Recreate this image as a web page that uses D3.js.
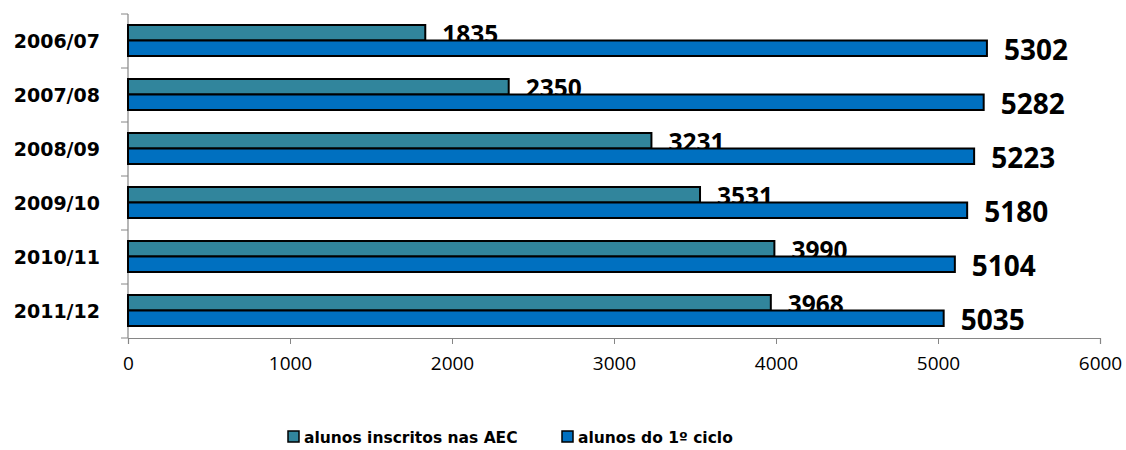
<!DOCTYPE html>
<html>
<head>
<meta charset="utf-8">
<script src="https://cdn.jsdelivr.net/npm/d3@7"></script>
<style>
  body { margin: 0; background: #fff; }
</style>
</head>
<body>
<div id="chart"></div>
<script>
// chart data
var years = ["2006/07", "2007/08", "2008/09", "2009/10", "2010/11", "2011/12"];
var aecValues = [1835, 2350, 3231, 3531, 3990, 3968];
var cicloValues = [5302, 5282, 5223, 5180, 5104, 5035];
var seriesNames = ["alunos inscritos nas AEC", "alunos do 1º ciclo"];
var xTicks = [0, 1000, 2000, 3000, 4000, 5000, 6000];

var width = 1126;
var height = 450;
var colors = ["#31859C", "#0070C0"];

var svg = d3.select("#chart")
    .append("svg")
    .attr("width", width)
    .attr("height", height);

// scales
var x = d3.scaleLinear()
    .domain([0, 6000])
    .range([128, 1100]);

var y = d3.scaleBand()
    .domain(years)
    .range([14, 338]);

// inner band for the two bars of each year
var barTop = 11;
var barH = 15.5;

// x axis
var xAxis = svg.append("g")
    .attr("transform", "translate(0,338)")
    .call(d3.axisBottom(x).tickValues(xTicks).tickSize(6).tickPadding(13).tickFormat(d3.format("d")));
xAxis.select(".domain").attr("stroke", "#868686").attr("stroke-width", 1.2);
xAxis.selectAll(".tick line").attr("stroke", "#868686");
xAxis.selectAll("text")
    .style("font-family", "'Open Sans', sans-serif")
    .style("font-size", "19px")
    .attr("fill", "#000");

// y axis (ticks on band boundaries)
svg.append("line")
    .attr("x1", x(0)).attr("x2", x(0))
    .attr("y1", 14).attr("y2", 338)
    .attr("stroke", "#868686").attr("stroke-width", 1.2);

var bounds = years.map(function(d) { return y(d); }).concat([338]);
svg.selectAll(".ytick")
    .data(bounds)
    .enter()
    .append("line")
    .attr("x1", x(0) - 7).attr("x2", x(0))
    .attr("y1", function(d) { return d; })
    .attr("y2", function(d) { return d; })
    .attr("stroke", "#868686");

svg.selectAll(".ylabel")
    .data(years)
    .enter()
    .append("text")
    .attr("x", 100)
    .attr("y", function(d) { return y(d) + y.bandwidth() / 2 + 7; })
    .attr("text-anchor", "end")
    .style("font-family", "'DejaVu Sans', sans-serif")
    .style("font-weight", "bold")
    .style("font-size", "19px")
    .text(function(d) { return d; });

// teal bars
svg.selectAll(".aec")
    .data(aecValues)
    .enter()
    .append("rect")
    .attr("x", x(0))
    .attr("y", function(d, i) { return y(years[i]) + barTop; })
    .attr("width", function(d) { return x(d) - x(0); })
    .attr("height", barH)
    .attr("fill", colors[0])
    .attr("stroke", "#000")
    .attr("stroke-width", 2);

// teal labels (drawn before the blue bars, which cover their bottom)
svg.selectAll(".aecLabel")
    .data(aecValues)
    .enter()
    .append("text")
    .attr("x", function(d) { return x(d) + 17; })
    .attr("y", function(d, i) { return y(years[i]) + barTop + barH / 2 + 10; })
    .style("font-family", "'Open Sans', sans-serif")
    .style("font-weight", "bold")
    .style("font-size", "24.5px")
    .text(function(d) { return d; });

// blue bars
svg.selectAll(".ciclo")
    .data(cicloValues)
    .enter()
    .append("rect")
    .attr("x", x(0))
    .attr("y", function(d, i) { return y(years[i]) + barTop + barH; })
    .attr("width", function(d) { return x(d) - x(0); })
    .attr("height", barH)
    .attr("fill", colors[1])
    .attr("stroke", "#000")
    .attr("stroke-width", 2);

svg.selectAll(".cicloLabel")
    .data(cicloValues)
    .enter()
    .append("text")
    .attr("x", function(d) { return x(d) + 17; })
    .attr("y", function(d, i) { return y(years[i]) + barTop + barH * 1.5 + 12; })
    .style("font-family", "'Open Sans', sans-serif")
    .style("font-weight", "bold")
    .style("font-size", "28px")
    .text(function(d) { return d; });

// legend
var legendX = [288, 562];
var legend = svg.selectAll(".legend")
    .data(seriesNames)
    .enter()
    .append("g")
    .attr("transform", function(d, i) { return "translate(" + legendX[i] + ",431)"; });

legend.append("rect")
    .attr("width", 11)
    .attr("height", 11)
    .attr("fill", function(d, i) { return colors[i]; })
    .attr("stroke", "#000")
    .attr("stroke-width", 1.5);

legend.append("text")
    .attr("x", 16)
    .attr("y", 12)
    .style("font-family", "'DejaVu Sans', sans-serif")
    .style("font-weight", "bold")
    .style("font-size", "15.5px")
    .text(function(d) { return d; });
</script>
</body>
</html>
